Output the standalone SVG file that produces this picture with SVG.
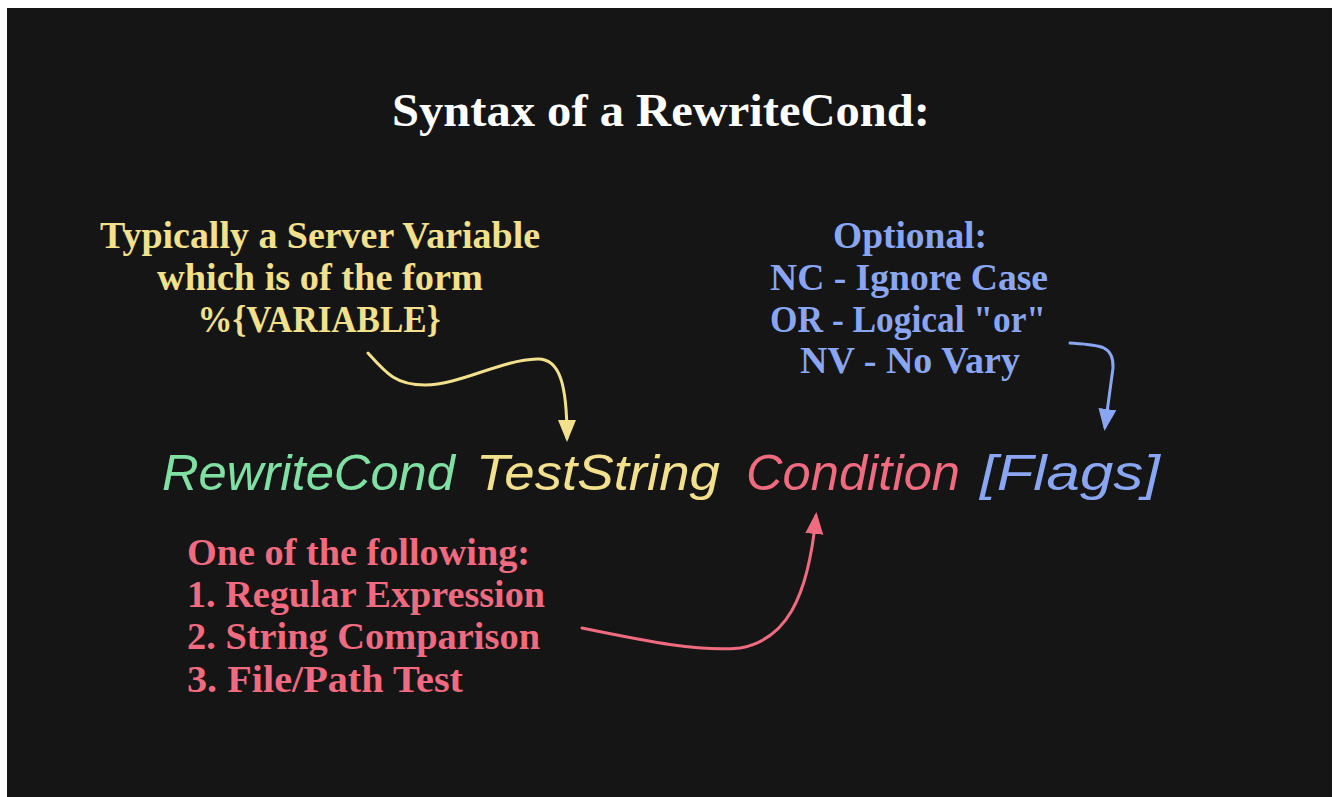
<svg xmlns="http://www.w3.org/2000/svg" width="1336" height="797" viewBox="0 0 1336 797">
<style>
.t{font-family:"Liberation Serif","Times New Roman",serif;font-weight:bold;}
.h{font-family:"Liberation Sans",Arial,sans-serif;font-style:italic;font-size:50px;}
.y{fill:#f2e08c;} .b{fill:#8aa6f2;} .p{fill:#f06a80;} .g{fill:#80e0a4;} .w{fill:#ffffff;}
.c{fill:none;stroke-width:3;stroke-linecap:round;}
</style>
<defs>
<marker id="ay" markerUnits="userSpaceOnUse" markerWidth="22" markerHeight="24" refX="18" refY="9" orient="auto" viewBox="0 0 22 18"><path d="M0,0 L22,9 L0,18 Z" fill="#f2e08c"/></marker>
<marker id="ab" markerUnits="userSpaceOnUse" markerWidth="22" markerHeight="24" refX="18" refY="9" orient="auto" viewBox="0 0 22 18"><path d="M0,0 L22,9 L0,18 Z" fill="#8aa6f2"/></marker>
<marker id="ap" markerUnits="userSpaceOnUse" markerWidth="22" markerHeight="24" refX="18" refY="9" orient="auto" viewBox="0 0 22 18"><path d="M0,0 L22,9 L0,18 Z" fill="#f06a80"/></marker>
</defs>
<rect x="0" y="0" width="1336" height="797" fill="#ffffff"/>
<rect x="7" y="8" width="1325" height="789" fill="#151515"/>
<g id="title"><text class="t w" x="392" y="126" font-size="46" textLength="538" lengthAdjust="spacingAndGlyphs">Syntax of a RewriteCond:</text></g>
<g id="testnote" class="t y" font-size="38" text-anchor="middle">
<text x="320" y="248" textLength="440" lengthAdjust="spacingAndGlyphs">Typically a Server Variable</text>
<text x="320" y="290" textLength="326" lengthAdjust="spacingAndGlyphs">which is of the form</text>
<text x="319" y="332" textLength="243" lengthAdjust="spacingAndGlyphs">%{VARIABLE}</text>
</g>
<g id="flagsnote" class="t b" font-size="38" text-anchor="middle">
<text x="910" y="248" textLength="154" lengthAdjust="spacingAndGlyphs">Optional:</text>
<text x="909" y="290" textLength="278" lengthAdjust="spacingAndGlyphs">NC - Ignore Case</text>
<text x="908" y="332" textLength="276" lengthAdjust="spacingAndGlyphs">OR - Logical "or"</text>
<text x="910" y="373" textLength="220" lengthAdjust="spacingAndGlyphs">NV - No Vary</text>
</g>
<g id="condnote" class="t p" font-size="37">
<text x="187" y="565" textLength="343" lengthAdjust="spacingAndGlyphs">One of the following:</text>
<text x="187" y="607" textLength="358" lengthAdjust="spacingAndGlyphs">1. Regular Expression</text>
<text x="187" y="649" textLength="353" lengthAdjust="spacingAndGlyphs">2. String Comparison</text>
<text x="187" y="692" textLength="276" lengthAdjust="spacingAndGlyphs">3. File/Path Test</text>
</g>
<g id="syntax" class="h">
<text id="kw" class="g" x="162" y="490" textLength="293" lengthAdjust="spacingAndGlyphs">RewriteCond</text>
<text id="ts" class="y" x="476" y="490" textLength="244" lengthAdjust="spacingAndGlyphs">TestString</text>
<text id="cd" class="p" x="746" y="490" textLength="214" lengthAdjust="spacingAndGlyphs">Condition</text>
<text id="fl" class="b" x="980" y="490" textLength="180" lengthAdjust="spacingAndGlyphs">[Flags]</text>
</g>
<g id="connectors">
<path class="c" stroke="#f2e08c" d="M368,353 C385,372 395,385 425,385 C460,385 500,360 537,359 C560,358 567,385 567,438" marker-end="url(#ay)"/>
<path class="c" stroke="#8aa6f2" d="M1070,343 C1100,345 1114,345 1113,368 L1105,427" marker-end="url(#ab)"/>
<path class="c" stroke="#f06a80" d="M582,628 C650,642 700,652 740,648 C785,640 808,600 816,516" marker-end="url(#ap)"/>
</g>
</svg>
